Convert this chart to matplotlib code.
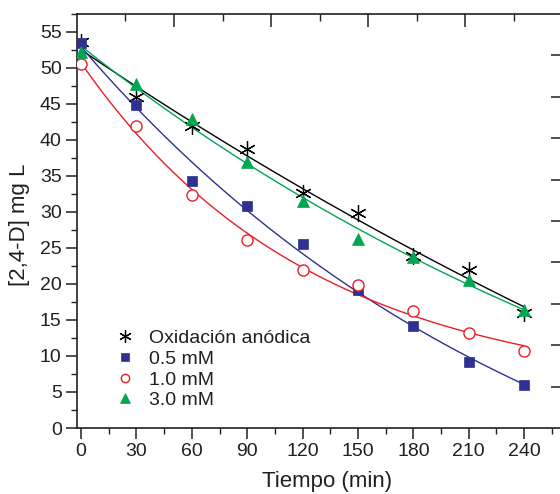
import numpy as np
import matplotlib
matplotlib.use("Agg")
import matplotlib.pyplot as plt
from matplotlib.ticker import MultipleLocator, NullFormatter, FixedLocator

# Sampling times (min)
tiempo = [0, 30, 60, 90, 120, 150, 180, 210, 240]

# 2,4-D concentration (mg/L) for each treatment
oxidacion_anodica = [53.6, 46.0, 41.9, 38.7, 32.7, 29.9, 23.9, 21.9, 16.0]
fe_05mM = [53.5, 44.8, 34.3, 30.8, 25.6, 19.2, 14.2, 9.2, 6.0]
fe_10mM = [50.5, 41.9, 32.4, 26.1, 22.0, 19.8, 16.2, 13.2, 10.7]
fe_30mM = [52.2, 47.8, 42.9, 36.9, 31.5, 26.2, 23.8, 20.6, 16.4]

labels = ["Oxidación anódica", "0.5 mM", "1.0 mM", "3.0 mM"]
xticks = [0, 30, 60, 90, 120, 150, 180, 210, 240]
yticks = [0, 5, 10, 15, 20, 25, 30, 35, 40, 45, 50, 55]

TEXT = "#231f20"
plt.rcParams["font.family"] = ["Liberation Sans", "DejaVu Sans"]
plt.rcParams["text.color"] = TEXT
plt.rcParams["axes.labelcolor"] = TEXT
plt.rcParams["xtick.color"] = TEXT
plt.rcParams["ytick.color"] = TEXT


def decay_fit(t, c):
    """Least-squares fit of c = a*exp(-k t) + b, scanning k on a grid."""
    t = np.asarray(t, float)
    c = np.asarray(c, float)
    best = None
    for k in np.linspace(1e-4, 0.03, 3000):
        A = np.column_stack([np.exp(-k * t), np.ones_like(t)])
        coef, *_ = np.linalg.lstsq(A, c, rcond=None)
        err = np.sum((A @ coef - c) ** 2)
        if best is None or err < best[0]:
            best = (err, k, coef)
    _, k, (a, b) = best
    return lambda x: a * np.exp(-k * x) + b


fig = plt.figure(figsize=(5.6, 4.94), dpi=100)
ax = fig.add_axes([77 / 560, 66 / 494, 485 / 560, 414 / 494])

series = [
    (oxidacion_anodica, "black", dict(marker=(6, 2, 0), ms=12, mew=0.9, mfc="black", mec="black")),
    (fe_05mM, "#2e3192", dict(marker="s", ms=7.5, mew=0.5, mfc="#2e3192", mec="#2e3192")),
    (fe_10mM, "#ed1c24", dict(marker="o", ms=8, mew=1.0, mfc="white", mec="#ed1c24")),
    (fe_30mM, "#00a651", dict(marker="^", ms=9, mew=0.5, mfc="#00a651", mec="#00a651")),
]

tt = np.linspace(0, 240, 300)
handles = []
for (vals, col, mk), lab in zip(series, labels):
    f = decay_fit(tiempo, vals)
    ax.plot(tt, f(tt), color=col, lw=1.0, zorder=2)
    h, = ax.plot(tiempo, vals, ls="none", zorder=3, label=lab, **mk)
    handles.append(h)

ax.set_xlim(-2.2, 260.5)
ax.set_ylim(0, 57.5)
ax.xaxis.set_major_locator(FixedLocator(xticks))
ax.xaxis.set_minor_locator(MultipleLocator(15))
ax.yaxis.set_major_locator(FixedLocator(yticks))
ax.yaxis.set_minor_locator(MultipleLocator(2.5))
ax.tick_params(axis="both", which="major", direction="out", length=8, width=1.1,
               labelsize=14, pad=3)
ax.tick_params(axis="both", which="minor", direction="out", length=4, width=1.0)
ax.tick_params(top=False, right=False, which="both")
for s in ax.spines.values():
    s.set_linewidth(1.2)
    s.set_color(TEXT)

ax.set_xlabel("Tiempo (min)", fontsize=16)
ax.set_ylabel("[2,4-D] mg L", fontsize=16)
ax.xaxis.set_label_coords(0.5165, -0.105)
ax.yaxis.set_label_coords(-0.097, 0.49)

# Tick marks of the neighbouring panel frame (top and right edges)
axt = ax.twiny()
axt.set_xlim(0, 10)
axt.xaxis.set_major_locator(FixedLocator([2, 4, 6, 8]))
axt.xaxis.set_minor_locator(FixedLocator([1, 3, 5, 7, 9]))
axt.xaxis.set_major_formatter(NullFormatter())
axt.tick_params(axis="x", which="major", direction="in", length=9, width=1.1, color=TEXT)
axt.tick_params(axis="x", which="minor", direction="in", length=5, width=1.0, color=TEXT)

axr = ax.twinx()
axr.set_ylim(0, 10)
axr.yaxis.set_major_locator(FixedLocator(list(range(1, 10))))
axr.yaxis.set_major_formatter(NullFormatter())
axr.tick_params(axis="y", which="major", direction="in", length=8, width=1.1, color=TEXT)
for a in (axt, axr):
    for s in a.spines.values():
        s.set_visible(False)

leg = ax.legend(handles=handles, loc="upper left", bbox_to_anchor=(0.079, 0.238),
                frameon=False, fontsize=14, markerscale=0.75, handlelength=1.0,
                handletextpad=0.74, labelspacing=0.16, borderpad=0, borderaxespad=0)
for t in leg.get_texts():
    t.set_color(TEXT)

fig.savefig("out.png", dpi=100)
